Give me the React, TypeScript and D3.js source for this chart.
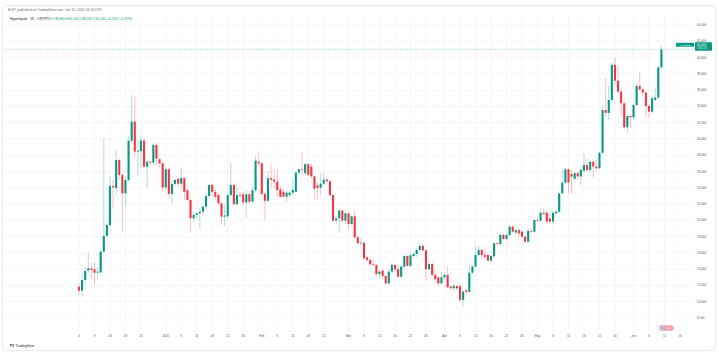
import React from "react";
import * as d3 from "d3";

// ---- data (Hyperliquid, daily, from 2024-12-04) ----
const firstDay = "2024-12-04";
const opens = [
  11.85, 11.36, 12.67, 13.82, 14.1, 14.0, 13.57, 13.6, 16.15, 18.08,
  19.43, 24.22, 23.95, 27.42, 25.57, 23.32, 24.96, 29.79, 32.12, 28.44,
  28.5, 29.79, 26.6, 27.2, 27.1, 29.26, 27.5, 27.0, 24.05, 26.27,
  23.24, 24.47, 25.1, 24.5, 25.2, 23.7, 22.5, 20.25, 20.66, 20.86,
  21.06, 21.68, 22.99, 24.34, 23.5, 23.1, 22.09, 20.45, 20.5, 23.1,
  24.34, 22.0, 23.1, 23.2, 22.2, 23.2, 22.3, 23.7, 27.2, 27.0,
  23.24, 22.4, 25.2, 25.0, 24.75, 23.8, 23.5, 22.9, 23.1, 23.4,
  23.5, 25.86, 26.27, 25.8, 26.9, 26.6, 25.4, 24.3, 24.0, 24.5,
  25.0, 24.8, 23.1, 20.0, 20.25, 21.2, 19.96, 20.86, 19.55, 20.5,
  17.91, 17.18, 17.26, 15.45, 15.13, 14.6, 14.52, 13.41, 13.82, 13.17,
  12.26, 13.7, 14.52, 14.0, 13.08, 14.31, 15.62, 14.4, 15.62, 15.87,
  16.36, 16.85, 16.3, 14.0, 14.64, 13.3, 12.99, 12.26, 13.0, 13.3,
  11.85, 11.65, 11.93, 11.9, 10.22, 11.4, 11.2, 13.57, 14.31, 15.74,
  16.36, 15.74, 15.74, 15.05, 15.6, 17.18, 17.1, 18.2, 17.7, 18.2,
  19.22, 18.5, 18.8, 18.6, 18.0, 17.38, 18.7, 18.6, 20.05, 19.96,
  20.94, 20.94, 20.2, 19.85, 20.86, 21.06, 23.32, 24.63, 26.27, 25.7,
  25.1, 25.8, 25.4, 26.1, 26.8, 26.2, 27.2, 26.6, 26.4, 28.3,
  33.56, 33.2, 34.79, 39.09, 37.16, 35.81, 34.38, 31.43, 32.82, 32.66,
  34.17, 36.51, 36.1, 35.7, 34.05, 33.35, 34.8, 35.1, 38.8,
];
const highs = [
  12.27, 13.49, 14.31, 16.03, 14.8, 14.8, 14.2, 16.36, 30.07, 19.6,
  25.4, 24.96, 28.6, 27.6, 25.8, 25.4, 30.3, 35.4, 35.2, 29.9,
  30.5, 30.1, 27.4, 27.4, 29.5, 29.5, 27.8, 27.2, 26.4, 26.5,
  24.96, 25.1, 25.3, 26.4, 25.3, 23.9, 22.7, 21.07, 21.0, 21.5,
  21.9, 23.3, 24.5, 24.5, 23.9, 23.3, 22.3, 22.0, 23.3, 27.1,
  24.6, 24.1, 23.5, 23.5, 23.7, 23.6, 24.1, 28.0, 28.3, 27.2,
  23.5, 26.0, 27.0, 26.3, 26.2, 24.2, 23.9, 23.7, 23.6, 25.0,
  26.0, 26.4, 28.4, 27.1, 27.0, 27.0, 25.5, 24.6, 25.8, 25.9,
  25.2, 25.0, 23.2, 20.5, 21.5, 21.3, 21.1, 21.0, 20.7, 21.3,
  18.08, 17.9, 17.4, 15.6, 15.4, 15.3, 14.7, 13.9, 14.0, 13.3,
  13.9, 14.8, 14.6, 14.5, 14.5, 15.8, 15.7, 16.0, 16.0, 16.5,
  17.26, 17.1, 16.5, 15.1, 14.8, 13.9, 13.2, 13.7, 13.6, 14.4,
  12.0, 12.26, 12.1, 12.3, 11.4, 11.6, 14.4, 14.5, 16.85, 16.85,
  16.5, 16.7, 15.9, 15.8, 17.3, 17.4, 18.5, 18.4, 18.4, 19.4,
  19.4, 19.0, 19.0, 18.8, 18.1, 18.9, 19.0, 20.1, 20.45, 21.48,
  21.48, 21.2, 20.86, 21.1, 21.2, 23.4, 26.2, 26.4, 26.4, 26.27,
  26.0, 26.0, 26.5, 28.2, 27.6, 27.4, 27.4, 27.4, 28.4, 34.05,
  37.45, 36.5, 39.37, 40.0, 38.96, 36.0, 34.6, 33.0, 33.0, 34.4,
  36.7, 38.19, 36.3, 35.9, 34.2, 35.2, 36.2, 39.0, 41.42,
];
const lows = [
  10.83, 10.54, 12.27, 13.49, 12.75, 12.18, 12.75, 13.49, 15.95, 18.0,
  19.2, 21.5, 23.1, 25.0, 18.6, 21.7, 24.75, 29.5, 27.8, 25.4,
  26.6, 26.5, 23.9, 26.8, 26.8, 26.7, 26.5, 23.5, 23.7, 22.7,
  22.0, 24.2, 24.2, 24.1, 22.5, 22.3, 18.5, 19.7, 20.3, 18.9,
  20.6, 21.3, 22.8, 22.9, 22.6, 21.8, 19.4, 19.3, 20.3, 23.0,
  21.8, 21.8, 22.7, 21.8, 20.25, 22.0, 22.1, 23.5, 26.6, 22.9,
  20.0, 22.2, 23.9, 23.9, 22.9, 22.7, 22.8, 22.3, 22.8, 23.2,
  23.4, 25.6, 25.6, 25.6, 25.4, 25.2, 22.5, 22.6, 23.1, 24.3,
  24.5, 22.9, 19.8, 19.6, 18.5, 19.8, 19.6, 18.9, 19.4, 17.8,
  17.0, 16.8, 15.1, 14.9, 14.4, 14.3, 13.08, 12.9, 13.0, 12.1,
  12.1, 13.5, 13.7, 12.9, 12.9, 14.1, 14.3, 14.3, 15.4, 15.5,
  16.2, 16.2, 12.6, 13.8, 13.1, 12.6, 12.0, 12.2, 12.7, 11.6,
  11.4, 11.36, 11.4, 10.0, 9.4, 10.83, 11.1, 13.4, 14.2, 15.5,
  15.3, 15.3, 14.9, 14.9, 15.4, 16.9, 16.9, 17.5, 17.5, 18.0,
  18.4, 18.3, 18.0, 17.8, 17.26, 17.1, 18.4, 18.4, 19.8, 19.8,
  20.6, 19.7, 19.6, 19.63, 20.6, 20.9, 23.2, 24.4, 23.3, 23.3,
  24.9, 24.9, 24.3, 25.9, 26.0, 26.0, 25.3, 26.1, 26.3, 28.1,
  32.7, 32.33, 34.5, 36.6, 35.5, 32.95, 31.2, 30.77, 31.4, 32.4,
  34.0, 35.9, 35.2, 32.7, 32.66, 33.2, 34.6, 34.8, 38.55,
];
const closes = [
  11.36, 12.67, 13.78, 14.1, 13.9, 13.57, 13.7, 16.15, 18.08, 19.43,
  24.22, 24.06, 27.42, 25.57, 23.32, 24.96, 29.79, 32.12, 28.44, 28.56,
  29.8, 26.6, 27.2, 27.1, 29.26, 27.6, 27.0, 24.05, 26.27, 23.24,
  24.47, 24.96, 24.5, 25.2, 23.5, 22.5, 20.25, 20.66, 20.86, 21.06,
  21.68, 22.99, 24.34, 23.5, 22.9, 22.09, 20.45, 20.6, 23.1, 24.34,
  22.0, 23.1, 23.0, 22.2, 23.2, 22.3, 23.7, 27.33, 27.0, 23.24,
  22.4, 25.16, 25.0, 24.75, 23.73, 22.9, 22.9, 23.4, 23.4, 23.73,
  25.86, 26.27, 26.2, 26.9, 25.6, 25.4, 23.9, 24.0, 24.5, 25.0,
  24.8, 23.1, 19.96, 20.25, 21.2, 19.96, 20.86, 19.55, 20.5, 17.91,
  17.18, 17.26, 15.33, 15.13, 14.6, 14.52, 13.41, 13.7, 13.17, 12.26,
  13.7, 14.52, 13.98, 13.08, 14.31, 15.62, 14.4, 15.7, 15.87, 16.36,
  16.85, 16.3, 14.0, 14.64, 13.3, 12.76, 12.26, 13.0, 13.3, 11.77,
  11.65, 11.93, 11.65, 10.22, 11.24, 11.2, 13.57, 14.31, 15.74, 16.36,
  15.74, 15.5, 15.05, 15.6, 17.18, 17.1, 18.2, 17.7, 18.2, 19.22,
  18.6, 18.8, 18.4, 18.0, 17.38, 18.7, 18.6, 20.05, 19.96, 20.94,
  20.8, 19.85, 19.85, 20.94, 21.06, 23.32, 24.63, 26.27, 24.63, 25.37,
  25.8, 25.4, 26.2, 26.8, 26.2, 27.2, 26.6, 26.4, 28.3, 33.56,
  33.2, 34.79, 39.09, 37.16, 35.81, 34.38, 31.43, 32.82, 32.66, 34.17,
  36.51, 36.1, 35.7, 34.05, 33.35, 35.0, 35.1, 38.8, 41.01,
];

const priceTicks = [8, 10, 12, 14, 16, 18, 20, 22, 24, 26, 28, 30, 32, 34, 36, 38, 40, 42, 44];
const tickDates = [
  "2024-12-04", "2024-12-09", "2024-12-14", "2024-12-19", "2024-12-24",
  "2025-01-01", "2025-01-06", "2025-01-11", "2025-01-16", "2025-01-21", "2025-01-26",
  "2025-02-01", "2025-02-06", "2025-02-11", "2025-02-16", "2025-02-21",
  "2025-03-01", "2025-03-06", "2025-03-11", "2025-03-16", "2025-03-21", "2025-03-26",
  "2025-04-01", "2025-04-06", "2025-04-11", "2025-04-16", "2025-04-21", "2025-04-26",
  "2025-05-01", "2025-05-06", "2025-05-11", "2025-05-16", "2025-05-21", "2025-05-26",
  "2025-06-01", "2025-06-06", "2025-06-11", "2025-06-16",
];
const tickLabels = [
  "4", "9", "14", "19", "24",
  "2025", "6", "11", "16", "21", "26",
  "Feb", "6", "11", "16", "21",
  "Mar", "6", "11", "16", "21", "26",
  "Apr", "6", "11", "16", "21", "26",
  "May", "6", "11", "16", "21", "26",
  "Jun", "6", "11", "16",
];

const UP = "#089981";
const DOWN = "#f23645";
const FONT = "'Liberation Sans', Arial, sans-serif";

export default function App() {
  const parse = d3.utcParse("%Y-%m-%d");
  const start = parse(firstDay) as Date;
  const x = d3
    .scaleUtc()
    .domain([start, parse("2025-06-16") as Date])
    .range([79, 680]);
  const y = d3.scaleLinear().domain([8, 44]).range([318, 25]);

  const candles = closes.map((c, i) => ({
    date: d3.utcDay.offset(start, i),
    o: opens[i],
    h: highs[i],
    l: lows[i],
    c,
  }));
  const last = candles[candles.length - 1];
  const prev = candles[candles.length - 2];
  const chg = last.c - prev.c;
  const pct = (chg / prev.c) * 100;
  const f3 = d3.format(".3f");
  const bw = 2.1;

  const plotLeft = 4;
  const plotRight = 693;
  const plotTop = 15;
  const plotBottom = 332;
  const lastY = y(last.c);

  return (
    <div style={{ position: "absolute", left: 0, top: 0 }}>
      <svg width={719} height={352} style={{ display: "block", fontFamily: FONT }}>
        <rect x={0} y={0} width={719} height={352} fill="#ffffff" />
        <rect x={2.5} y={5.5} width={713} height={345} rx={4} fill="#ffffff" stroke="#e3e5ea" strokeWidth={0.8} />

        {/* grid */}
        {priceTicks.map((p) => (
          <line key={"h" + p} x1={plotLeft} x2={plotRight} y1={y(p)} y2={y(p)} stroke="#f0f2f5" strokeWidth={0.7} />
        ))}
        {tickDates.map((d, i) => {
          const xx = x(parse(d) as Date);
          return <line key={"v" + i} x1={xx} x2={xx} y1={plotTop} y2={plotBottom} stroke="#f0f2f5" strokeWidth={0.7} />;
        })}

        {/* header */}
        <text x={8} y={11.2} fontSize={3.4} fill="#6a6d78">
          M-ET published on TradingView.com, Jun 10, 2025 16:18 UTC
        </text>
        <text x={10} y={19.6} fontSize={3.4} fill="#131722">
          <tspan>Hyperliquid · 1D · CRYPTO </tspan>
          <tspan fill={UP}>
            {` O${f3(last.o)} H${f3(last.h)} L${f3(last.l)} C${f3(last.c)} ${chg >= 0 ? "+" : ""}${f3(chg)} (${chg >= 0 ? "+" : ""}${d3.format(".2f")(pct)}%)`}
          </tspan>
        </text>

        {/* last price dotted line */}
        <line x1={plotLeft} x2={plotRight} y1={lastY} y2={lastY} stroke={UP} strokeWidth={0.5} strokeDasharray="0.6 1.2" />

        {/* candles */}
        {candles.map((d, i) => {
          const cx = x(d.date);
          const col = d.c >= d.o ? UP : DOWN;
          const top = y(Math.max(d.o, d.c));
          const bot = y(Math.min(d.o, d.c));
          return (
            <g key={i}>
              <line x1={cx} x2={cx} y1={y(d.h)} y2={y(d.l)} stroke={col} strokeOpacity={0.45} strokeWidth={0.7} />
              <rect x={cx - bw / 2} y={top} width={bw} height={Math.max(0.7, bot - top)} fill={col} />
            </g>
          );
        })}

        {/* price axis labels */}
        {priceTicks.map((p) => (
          <text key={"pl" + p} x={697} y={y(p)} dy="0.35em" fontSize={3} fill="#50535e">
            {d3.format(",.3f")(p)}
          </text>
        ))}

        {/* price label boxes */}
        <rect x={676} y={lastY - 6.5} width={18} height={4} rx={0.6} fill={UP} />
        <text x={685} y={lastY - 4.5} dy="0.35em" fontSize={2.3} fill="#ffffff" textAnchor="middle">
          HYPEUSD
        </text>
        <rect x={695} y={lastY - 7} width={17} height={8.5} rx={0.6} fill={UP} />
        <text x={697} y={lastY - 4.7} dy="0.35em" fontSize={3} fill="#ffffff">
          {f3(last.c)}
        </text>
        <text x={697} y={lastY - 1.1} dy="0.35em" fontSize={2.6} fill="#e6f7f3">
          13:41:51
        </text>

        {/* time axis labels */}
        {tickDates.map((d, i) => (
          <text key={"tl" + i} x={x(parse(d) as Date)} y={336} dy="0.35em" fontSize={3} fill="#50535e" textAnchor="middle">
            {tickLabels[i]}
          </text>
        ))}

        {/* event badge */}
        <g>
          <rect x={659.5} y={325.5} width={14} height={5} rx={2.5} fill="#f7a6b3" stroke="#f27e93" strokeWidth={0.4} />
          <circle cx={662} cy={328} r={2.3} fill="#ffffff" stroke="#b768d6" strokeWidth={0.5} />
          <circle cx={662.2} cy={328} r={1.1} fill={UP} />
          <text x={668.5} y={328} dy="0.35em" fontSize={2.4} fill="#ffffff" textAnchor="middle">
            +2
          </text>
        </g>

        {/* TradingView logo */}
        <text x={9.5} y={345.8} dy="0.35em" fontSize={3.6} fontWeight="bold" fill="#131722">
          TV
        </text>
        <text x={15.5} y={345.8} dy="0.35em" fontSize={3.4} fill="#131722">
          TradingView
        </text>
      </svg>
    </div>
  );
}
